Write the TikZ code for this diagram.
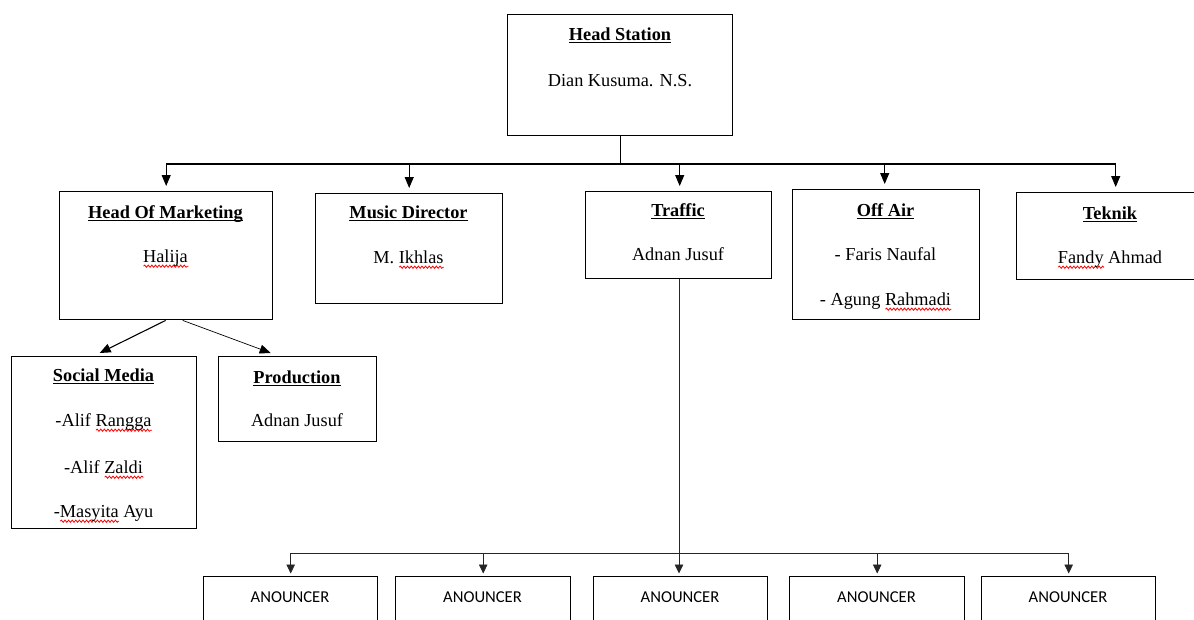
\documentclass[tikz,border=0pt]{standalone}
\usepackage{fontspec}
\setmainfont{Liberation Serif}
\newfontfamily\calfont{Carlito}
\usetikzlibrary{arrows.meta,decorations.pathmorphing}
\newsavebox\tulbox
\newsavebox\sqbox
\newlength\sqw
\newcommand\tul[1]{\sbox\tulbox{#1}\rlap{\vrule height -1.8pt depth 3.3pt width \wd\tulbox}\usebox\tulbox}
\newcommand\sq[1]{\sbox\sqbox{#1}\setlength\sqw{\wd\sqbox}\rlap{\tikz[baseline=0pt]\draw[red, line width=0.8pt, decorate, decoration={snake, amplitude=1.1pt, segment length=3.6pt}] (0pt,-4.2pt) -- (\the\sqw,-4.2pt);}\usebox\sqbox}
\begin{document}
\begin{tikzpicture}[x=1pt,y=-1pt,
  box/.style={draw, line width=1.4pt, inner sep=0pt, anchor=north west},
  ttl/.style={anchor=base, inner sep=0pt, font=\bfseries\fontsize{18.3}{22}\selectfont},
  txt/.style={anchor=base, inner sep=0pt, font=\fontsize{18.3}{22}\selectfont},
  ann/.style={anchor=base, inner sep=0pt, font=\calfont\fontsize{16.6}{20}\selectfont},
  conn/.style={line width=1.1pt},
  thin conn/.style={line width=0.8pt, draw=black!85},
  arr/.style={conn, -{Triangle[length=11pt,width=9pt]}},
  sarr/.style={thin conn, -{Triangle[length=9pt,width=8.5pt]}}]
\useasboundingbox (0,0) rectangle (1194,619);
% boxes
\node[box, minimum width=225pt, minimum height=121pt] (hs) at (507,14) {};
\node[box, minimum width=213pt, minimum height=128pt] (hom) at (59,191) {};
\node[box, minimum width=187pt, minimum height=110pt] (md) at (315,193) {};
\node[box, minimum width=186pt, minimum height=87pt] (tr) at (585,191) {};
\node[box, minimum width=187pt, minimum height=130pt] (oa) at (792,189) {};
\node[box, minimum width=188pt, minimum height=87pt] (tek) at (1016,192) {};
\node[box, minimum width=185pt, minimum height=172pt] (sm) at (11,356) {};
\node[box, minimum width=158pt, minimum height=85pt] (prod) at (218,356) {};
\node[box, minimum width=174pt, minimum height=70pt] (a1) at (203,576) {};
\node[box, minimum width=175pt, minimum height=70pt] (a2) at (395,576) {};
\node[box, minimum width=174pt, minimum height=70pt] (a3) at (593,576) {};
\node[box, minimum width=175pt, minimum height=70pt] (a4) at (789,576) {};
\node[box, minimum width=174pt, minimum height=70pt] (a5) at (981,576) {};
% texts
\node[ttl] (hsT) at (620,40) {\tul{Head Station}};
\node[txt] (hsN) at (620,86) {Dian Kusuma. N.S.};
\node[ttl] (homT) at (165.5,218) {\tul{Head Of Marketing}};
\node[txt] (homN) at (165.5,262) {\sq{Halija}};
\node[ttl] (mdT) at (408.5,218) {\tul{Music Director}};
\node[txt] (mdN) at (408.5,263) {M. \sq{Ikhlas}};
\node[ttl] (trT) at (678,216) {\tul{Traffic}};
\node[txt] (trN) at (678,260) {Adnan Jusuf};
\node[ttl] (oaT) at (885.5,216) {\tul{Off Air}};
\node[txt] (oaN1) at (885.5,260) {- Faris Naufal};
\node[txt] (oaN2) at (885.5,305) {- Agung \sq{Rahmadi}};
\node[ttl] (tekT) at (1110,219) {\tul{Teknik}};
\node[txt] (tekN) at (1110,263) {\sq{Fandy} Ahmad};
\node[ttl] (smT) at (103.5,381) {\tul{Social Media}};
\node[txt] (smN1) at (103.5,426) {-Alif \sq{Rangga}};
\node[txt] (smN2) at (103.5,473) {-Alif \sq{Zaldi}};
\node[txt] (smN3) at (103.5,517) {-\sq{Masyita} Ayu};
\node[ttl] (prT) at (297,383) {\tul{Production}};
\node[txt] (prN) at (297,426) {Adnan Jusuf};
\node[ann] (a1T) at (290,602) {ANOUNCER};
\node[ann] (a2T) at (482.5,602) {ANOUNCER};
\node[ann] (a3T) at (680,602) {ANOUNCER};
\node[ann] (a4T) at (876.5,602) {ANOUNCER};
\node[ann] (a5T) at (1068,602) {ANOUNCER};
% connectors
\coordinate (j1) at (620.5,164);
\draw[conn] (j1 |- hs.south) -- (j1);
\draw[arr, shorten >=5pt] (j1) -| (hom.north);
\draw[arr, shorten >=5pt] (j1) -| (md.north);
\draw[arr, shorten >=5pt] (j1) -| ([xshift=1pt]tr.north);
\draw[arr, shorten >=5pt] (j1) -| ([xshift=-1.5pt]oa.north);
\draw[arr, shorten >=5pt] (j1) -| ([xshift=5pt]tek.north);
\draw[arr] ([xshift=-0.5pt]hom.south) -- ([xshift=-4.5pt,yshift=3pt]sm.north);
\draw[arr, line width=0.7pt] ([xshift=16.5pt]hom.south) -- ([xshift=-27pt,yshift=3pt]prod.north);
\coordinate (j2) at (679,553);
\draw[thin conn] (j2 |- tr.south) -- (j2);
\draw[sarr, shorten >=2.5pt] (j2) -| (a1.north);
\draw[sarr, shorten >=2.5pt] (j2) -| (a2.north);
\draw[sarr, shorten >=2.5pt] (j2) -| (j2 |- a3.north);
\draw[sarr, shorten >=2.5pt] (j2) -| (a4.north);
\draw[sarr, shorten >=2.5pt] (j2) -| (a5.north);
\end{tikzpicture}
\end{document}
